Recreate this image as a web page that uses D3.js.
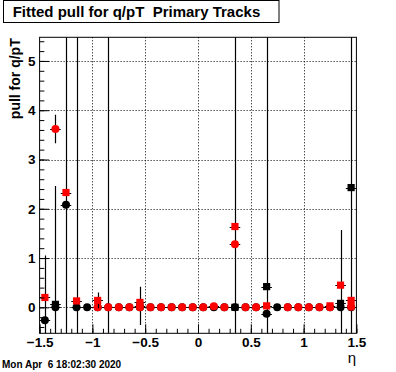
<!DOCTYPE html>
<html>
<head>
<meta charset="utf-8">
<script src="https://cdn.jsdelivr.net/npm/d3@7"></script>
<style>
body { margin: 0; background: #fff; }
svg text { font-family: "Liberation Sans", Arial, Helvetica, sans-serif; font-weight: bold; }
</style>
</head>
<body>
<div id="viz"></div>
<script>
// bin centres in eta (30 bins of 0.1)
const etaBins = [-1.45, -1.35, -1.25, -1.15, -1.05, -0.95, -0.85, -0.75, -0.65, -0.55,
                 -0.45, -0.35, -0.25, -0.15, -0.05, 0.05, 0.15, 0.25, 0.35, 0.45,
                 0.55, 0.65, 0.75, 0.85, 0.95, 1.05, 1.15, 1.25, 1.35, 1.45]

// black circles
const blackCircle    = [-0.26, 0.00, 2.08, 0.00, 0.00, 0.00, 0.00, 0.00, 0.00, 0.00,
                        0.00, 0.00, 0.00, 0.00, 0.00, 0.00, 0.00, 0.00, 0.00, 0.00,
                        0.00, -0.13, 0.00, 0.00, 0.00, 0.00, 0.00, 0.00, 0.00, 0.00]
const blackCircleErr = [0, 0, 9, 9, 0, 0, 9, 0, 0, 0,
                        0, 0, 0, 0, 0, 0, 0, 0, 9, 0,
                        0, 9, 0, 0, 0, 0, 0, 0, 0, 0]
// black squares
const blackSquare    = [null, 0.06, null, null, null, null, null, null, null, 0.03,
                        null, null, null, null, null, null, null, null, 0.00, null,
                        null, 0.42, null, null, null, null, null, null, 0.08, 2.43]
const blackSquareErr = [0, 2.40, 0, 0, 0, 0, 0, 0, 0, 0.39,
                        0, 0, 0, 0, 0, 0, 0, 0, 0, 0,
                        0, 0, 0, 0, 0, 0, 0, 0, 0, 9]
// red circles
const redCircle      = [null, 3.62, null, null, null, 0.00, 0.00, 0.00, 0.00, 0.00,
                        0.00, 0.00, 0.00, 0.00, 0.00, 0.00, 0.02, 0.00, 1.28, 0.00,
                        0.00, null, null, 0.00, 0.00, 0.00, 0.00, 0.00, null, 0.01]
const redCircleErr   = [0, 0.29, 0, 0, 0, 0, 0, 0, 0, 0,
                        0, 0, 0, 0, 0, 0, 0, 0, 0, 0,
                        0, 0, 0, 0, 0, 0, 0, 0, 0, 0]
// red squares
const redSquare      = [0.20, null, 2.33, 0.13, null, 0.14, null, null, null, 0.10,
                        null, null, null, null, null, null, null, null, 1.64, null,
                        null, 0.03, null, null, null, null, null, 0.03, 0.45, 0.14]
const redSquareErr   = [0.85, 0, 0, 0, 0, 0.16, 0, 0, 0, 0,
                        0, 0, 0, 0, 0, 0, 0, 0, 0, 0,
                        0, 0, 0, 0, 0, 0, 0, 0, 1.12, 0]

const xMajor = [-1.5, -1, -0.5, 0, 0.5, 1, 1.5]
const yMajor = [0, 1, 2, 3, 4, 5]

const title = "Fitted pull for q/pT  Primary Tracks"
const yTitle = "pull for q/pT"
const xTitle = "\u03b7"
const dateText = "Mon Apr  6 18:02:30 2020"

const width = 396
const height = 372
const margin = {top: 37.3, right: 39.6, bottom: 38.7, left: 39.6}
const binHalf = 0.05

const x = d3.scaleLinear().domain([-1.5, 1.5]).range([margin.left, width - margin.right])
const y = d3.scaleLinear().domain([-0.527, 5.48]).range([height - margin.bottom, margin.top])

const svg = d3.select("#viz").append("svg")
    .attr("width", width)
    .attr("height", height)

svg.append("rect").attr("width", width).attr("height", height).attr("fill", "#fff")

svg.append("clipPath").attr("id", "frame")
  .append("rect")
    .attr("x", x(-1.5)).attr("y", y(5.48))
    .attr("width", x(1.5) - x(-1.5)).attr("height", y(-0.527) - y(5.48))

// dotted grid
const grid = svg.append("g").attr("stroke", "#000").attr("stroke-dasharray", "1,2").attr("stroke-width", 1)
grid.selectAll(".gx").data(xMajor.slice(1, -1)).enter().append("line")
    .attr("x1", d => Math.round(x(d)) + 0.5).attr("x2", d => Math.round(x(d)) + 0.5)
    .attr("y1", y(5.48)).attr("y2", y(-0.527))
grid.selectAll(".gy").data(yMajor).enter().append("line")
    .attr("x1", x(-1.5)).attr("x2", x(1.5))
    .attr("y1", d => Math.round(y(d)) + 0.5).attr("y2", d => Math.round(y(d)) + 0.5)

const plot = svg.append("g").attr("clip-path", "url(#frame)")

function drawSeries(vals, errs, color, shape) {
    const pts = etaBins.map((eta, i) => ({eta: eta, v: vals[i], e: errs[i]}))
        .filter(d => d.v !== null)
    const g = plot.append("g")
    // error bars are black for every series
    g.selectAll(".ex").data(pts).enter().append("line")
        .attr("x1", d => x(d.eta - binHalf)).attr("x2", d => x(d.eta + binHalf))
        .attr("y1", d => Math.round(y(d.v)) + 0.5).attr("y2", d => Math.round(y(d.v)) + 0.5)
        .attr("stroke", "#000").attr("stroke-width", 1.2)
    g.selectAll(".ey").data(pts.filter(d => d.e > 0)).enter().append("line")
        .attr("x1", d => Math.round(x(d.eta)) + 0.5).attr("x2", d => Math.round(x(d.eta)) + 0.5)
        .attr("y1", d => y(d.v - d.e)).attr("y2", d => y(d.v + d.e))
        .attr("stroke", "#000").attr("stroke-width", 1.2)
    if (shape === "circle") {
        g.selectAll(".m").data(pts).enter().append("circle")
            .attr("cx", d => x(d.eta)).attr("cy", d => y(d.v)).attr("r", 4)
            .attr("fill", color)
    } else {
        g.selectAll(".m").data(pts).enter().append("rect")
            .attr("x", d => x(d.eta) - 3.6).attr("y", d => y(d.v) - 3.6)
            .attr("width", 7.2).attr("height", 7.2)
            .attr("fill", color)
    }
}

drawSeries(blackCircle, blackCircleErr, "#000", "circle")
drawSeries(blackSquare, blackSquareErr, "#000", "square")
drawSeries(redCircle, redCircleErr, "#ff0000", "circle")
drawSeries(redSquare, redSquareErr, "#ff0000", "square")

// axes, ticks pointing inward
const fmt = d3.format("")
const xMinor = d3.range(-15, 16).map(d => d / 10)
const yMinor = d3.range(-2, 28).map(d => d / 5)

svg.append("g").attr("transform", "translate(0," + y(-0.527) + ")")
    .call(d3.axisBottom(x).tickValues(xMinor).tickSize(-4.5).tickSizeOuter(0).tickFormat(""))
    .call(g => g.select(".domain").remove())
svg.append("g").attr("transform", "translate(0," + y(-0.527) + ")")
    .call(d3.axisBottom(x).tickValues(xMajor).tickSize(-9).tickSizeOuter(0).tickPadding(4).tickFormat(fmt))
    .call(g => g.select(".domain").remove())
    .call(g => g.selectAll("text").attr("font-size", 13.5).attr("fill", "#000"))

svg.append("g").attr("transform", "translate(" + x(-1.5) + ",0)")
    .call(d3.axisLeft(y).tickValues(yMinor).tickSize(-4.75).tickSizeOuter(0).tickFormat(""))
    .call(g => g.select(".domain").remove())
svg.append("g").attr("transform", "translate(" + x(-1.5) + ",0)")
    .call(d3.axisLeft(y).tickValues(yMajor).tickSize(-9.5).tickSizeOuter(0).tickPadding(4).tickFormat(fmt))
    .call(g => g.select(".domain").remove())
    .call(g => g.selectAll("text").attr("font-size", 13.5).attr("fill", "#000"))

svg.selectAll(".tick line").attr("stroke", "#000")

// frame
svg.append("rect")
    .attr("x", x(-1.5)).attr("y", y(5.48))
    .attr("width", x(1.5) - x(-1.5)).attr("height", y(-0.527) - y(5.48))
    .attr("fill", "none").attr("stroke", "#000").attr("stroke-width", 1)

// titles
svg.append("rect")
    .attr("x", 3.5).attr("y", 0.5).attr("width", 275.5).attr("height", 22)
    .attr("fill", "#fff").attr("stroke", "#000")
svg.append("text")
    .attr("x", 12.7).attr("y", 17.3)
    .attr("font-size", 15).style("white-space", "pre")
    .text(title)

svg.append("text")
    .attr("transform", "translate(20," + (margin.top + 1) + ") rotate(-90)")
    .attr("text-anchor", "end").attr("font-size", 14)
    .text(yTitle)

svg.append("text")
    .attr("x", 356).attr("y", 363)
    .attr("text-anchor", "end").attr("font-size", 15).style("font-weight", "normal")
    .text(xTitle)

svg.append("text")
    .attr("x", 2).attr("y", 368)
    .attr("font-size", 10).style("white-space", "pre")
    .text(dateText)
</script>
</body>
</html>
